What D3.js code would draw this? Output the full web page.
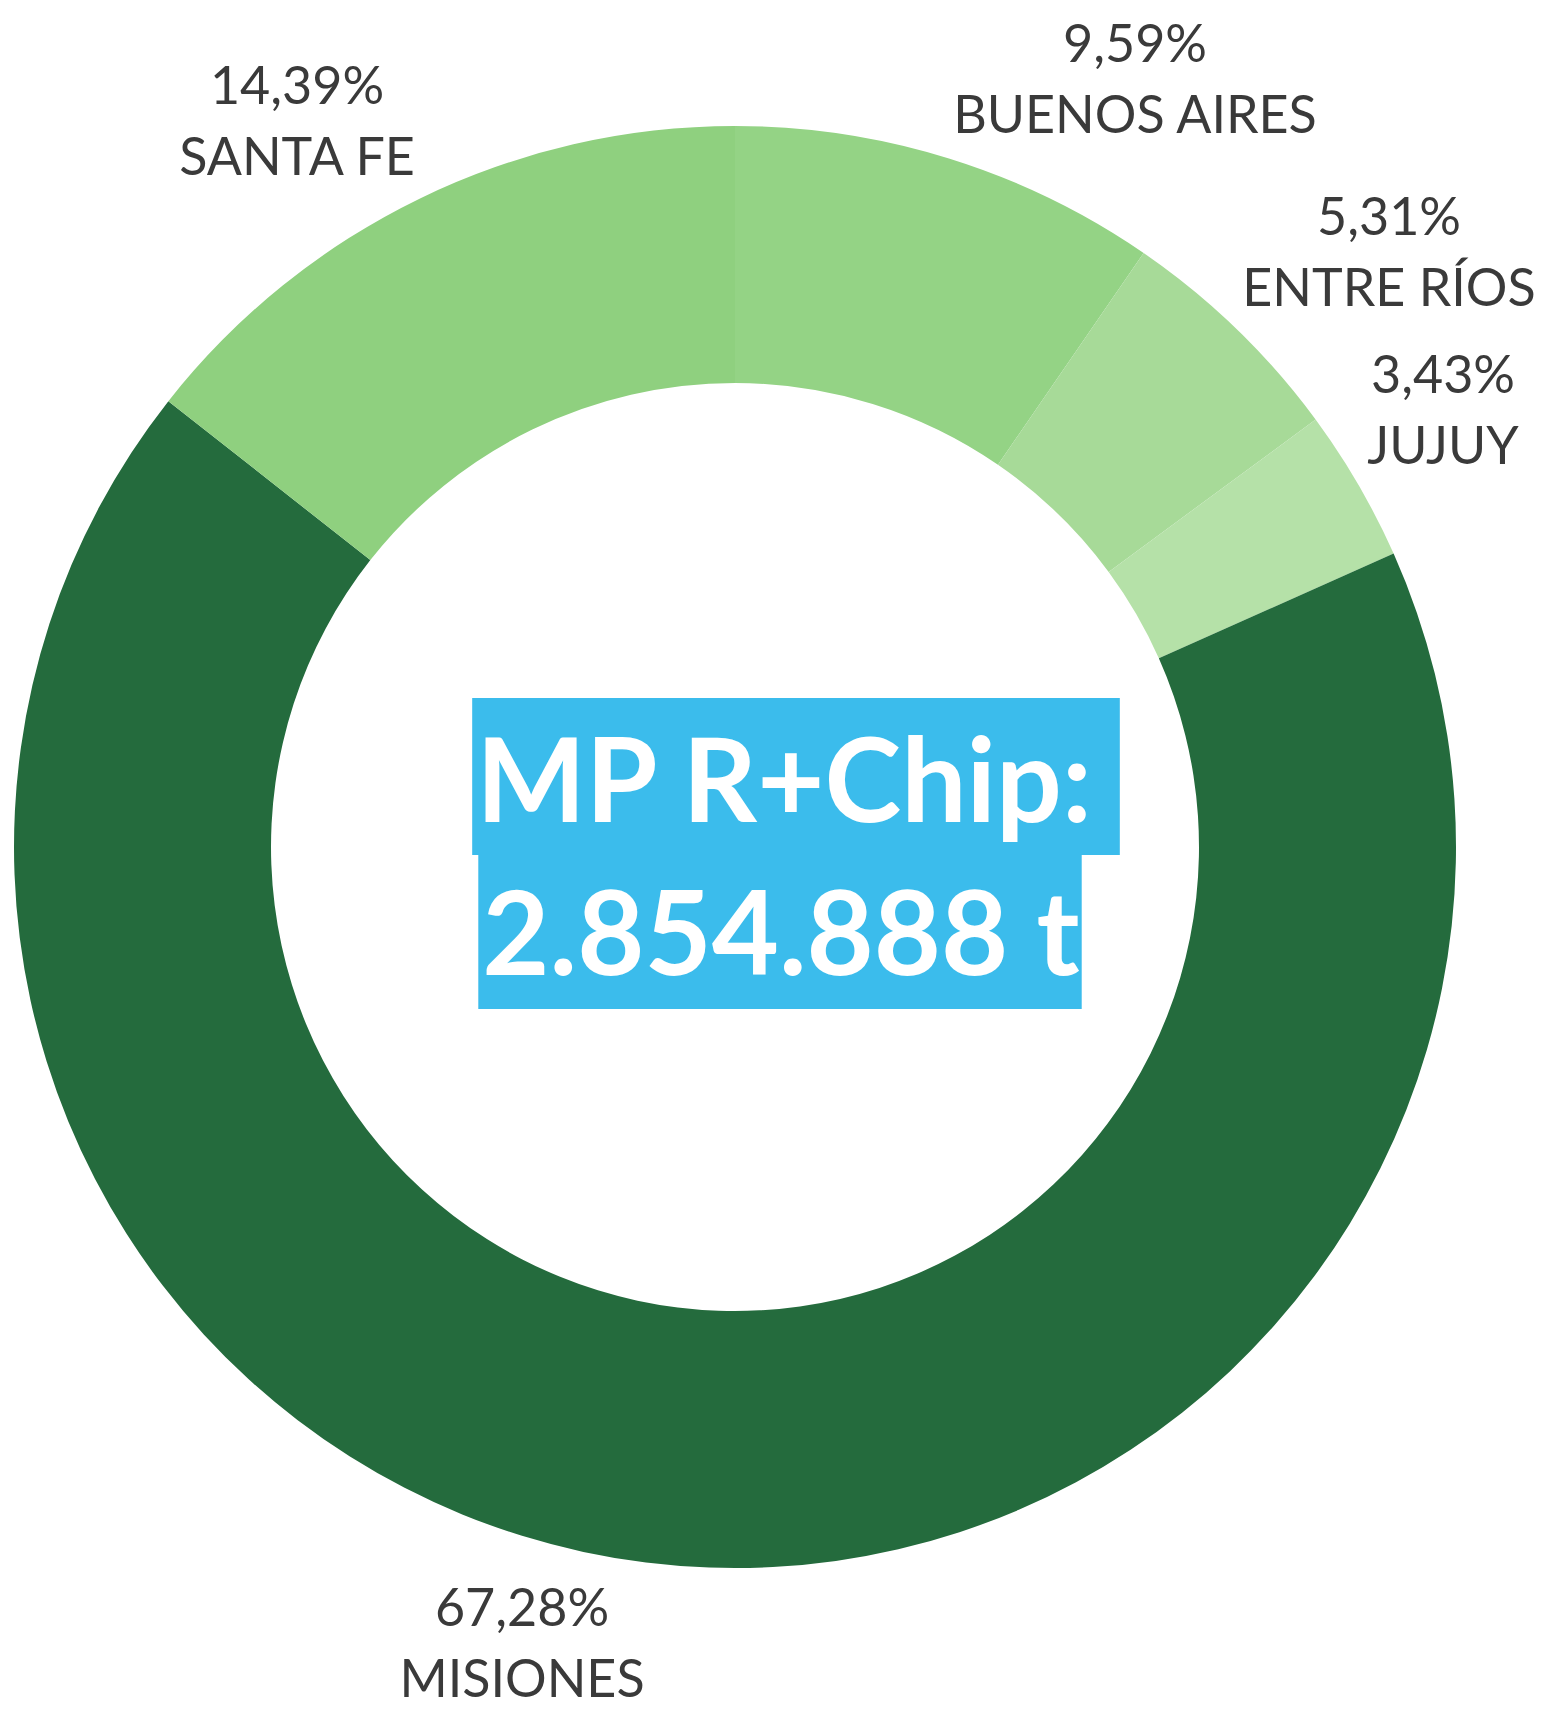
<!DOCTYPE html>
<html>
<head>
<meta charset="utf-8">
<script src="https://cdn.jsdelivr.net/npm/d3@7"></script>
<style>
  html, body { margin: 0; padding: 0; background: #fff; }
  svg { display: block; }
</style>
</head>
<body>
<svg id="chart" width="1542" height="1711"></svg>
<script>
// Province shares (%), clockwise from 12 o'clock
const provinces = ['BUENOS AIRES', 'ENTRE RÍOS', 'JUJUY', 'MISIONES', 'SANTA FE'];
const shares = [9.59, 5.31, 3.43, 67.28, 14.39];
const sliceColors = ['#94d385', '#a7da98', '#b5e1a8', '#246b3d', '#8fd07f'];
const centerLines = ['MP R+Chip:', '2.854.888 t'];

// where Tableau put each label (x, baseline of the % line)
const labelPos = {
  'BUENOS AIRES': [1135, 62],
  'ENTRE RÍOS': [1389, 235],
  'JUJUY': [1443, 393],
  'MISIONES': [522, 1626],
  'SANTA FE': [297, 104]
};

const svg = d3.select('#chart');
const cx = 735, cy = 847;
const outerR = 721, innerR = 464;

const data = provinces.map((p, i) => ({ name: p, value: shares[i], color: sliceColors[i] }));

const pie = d3.pie().value(d => d.value).sort(null);
const arc = d3.arc().innerRadius(innerR).outerRadius(outerR);

const g = svg.append('g').attr('transform', `translate(${cx},${cy})`);

g.selectAll('path')
  .data(pie(data))
  .join('path')
  .attr('d', arc)
  .attr('fill', d => d.data.color);

// percent with decimal comma
const esLocale = d3.formatLocale({ decimal: ',', thousands: '.', grouping: [3], currency: ['', ''] });
const pct = v => esLocale.format('.2f')(v) + '%';

const labels = svg.append('g')
  .attr('font-family', 'Lato, sans-serif')
  .attr('font-size', 52)
  .attr('fill', '#3a3a3a')
  .attr('text-anchor', 'middle');

data.forEach(d => {
  const [x, y] = labelPos[d.name];
  labels.append('text').attr('x', x).attr('y', y).text(pct(d.value));
  labels.append('text').attr('x', x).attr('y', y + 71).text(d.name);
});

// center annotation, highlighted lines
const center = svg.append('g');
const lineTop = [698, 855];
const lineH = [157, 154];
const baselines = [822, 975];
const textX = [784, 781];

centerLines.forEach((line, i) => {
  const rect = center.append('rect').attr('fill', '#3bbcec');
  const t = center.append('text')
    .attr('x', textX[i])
    .attr('y', baselines[i])
    .attr('text-anchor', 'middle')
    .attr('font-family', 'Lato, sans-serif')
    .attr('font-weight', 700)
    .attr('font-size', 116)
    .attr('fill', '#fff')
    .text(line);
  const w = t.node().getComputedTextLength();
  const extra = i === 0 ? 28 : 2; // first line keeps a trailing space
  rect.attr('x', textX[i] - w / 2 - 4)
    .attr('y', lineTop[i])
    .attr('width', w + 4 + extra)
    .attr('height', lineH[i]);
});
</script>
</body>
</html>
